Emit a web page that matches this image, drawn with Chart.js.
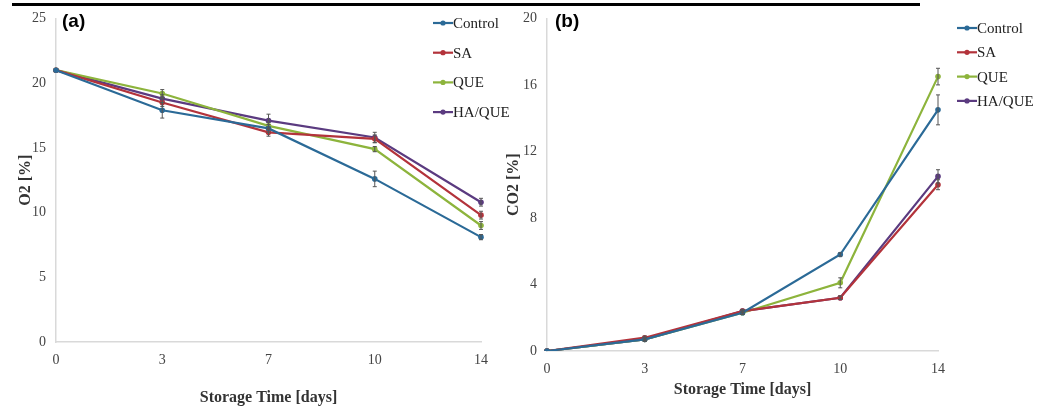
<!DOCTYPE html>
<html>
<head>
<meta charset="utf-8">
<script src="https://cdn.jsdelivr.net/npm/chart.js@4.4.1/dist/chart.umd.min.js"></script>
<style>
    body { margin: 0; background: #fff; }
    #wrap { position: relative; width: 1056px; height: 412px; overflow: hidden; }
    #rule { position: absolute; left: 12px; top: 3px; width: 908px; height: 3px; background: #000; }
    .box { position: absolute; top: 0; height: 412px; }
    #boxA { left: 0; width: 510px; }
    #boxB { left: 498px; width: 558px; }
</style>
</head>
<body>
<div id="wrap">
    <div class="box" id="boxA"><canvas id="chartA"></canvas></div>
    <div class="box" id="boxB"><canvas id="chartB"></canvas></div>
    <div id="rule"></div>
</div>
<script>
const days = ['0', '3', '7', '10', '14'];
const seriesNames = ['Control', 'SA', 'QUE', 'HA/QUE'];
const seriesColors = ['#2b6a97', '#b3333b', '#8db43c', '#5b3b80'];

// O2 [%]
const o2Control = [21.0, 17.9, 16.5, 12.6, 8.1];
const o2SA = [21.0, 18.5, 16.2, 15.7, 9.8];
const o2QUE = [21.0, 19.2, 16.7, 14.9, 9.0];
const o2HAQUE = [21.0, 18.8, 17.1, 15.8, 10.8];
const o2ErrControl = [0, 0.6, 0.3, 0.6, 0.2];
const o2ErrSA = [0, 0.3, 0.3, 0.3, 0.3];
const o2ErrQUE = [0, 0.3, 0.3, 0.2, 0.3];
const o2ErrHAQUE = [0, 0.3, 0.5, 0.4, 0.3];

// CO2 [%]
const co2Control = [0, 0.7, 2.3, 5.8, 14.5];
const co2SA = [0, 0.8, 2.4, 3.2, 10.0];
const co2QUE = [0, 0.7, 2.3, 4.1, 16.5];
const co2HAQUE = [0, 0.7, 2.4, 3.2, 10.5];
const co2ErrControl = [0, 0.1, 0.1, 0.1, 0.9];
const co2ErrSA = [0, 0.1, 0.1, 0.1, 0.3];
const co2ErrQUE = [0, 0.1, 0.1, 0.3, 0.5];
const co2ErrHAQUE = [0, 0.1, 0.1, 0.1, 0.4];

const serif = "'Liberation Serif', 'Times New Roman', serif";

function MakeDatasets(values, errors) {
    return values.map((v, i) => ({
        label: seriesNames[i],
        data: v,
        errors: errors[i],
        borderColor: seriesColors[i],
        backgroundColor: seriesColors[i],
        borderWidth: 2.2,
        pointRadius: 2.8,
        pointBorderWidth: 0,
        tension: 0
    }));
}

// error bars, drawn with the chart's own y scale
const errorBars = {
    id: 'errorBars',
    afterDatasetsDraw(chart) {
        const ctx = chart.ctx;
        const y = chart.scales.y;
        ctx.save();
        ctx.strokeStyle = '#555';
        ctx.lineWidth = 1;
        chart.data.datasets.forEach((ds, di) => {
            const meta = chart.getDatasetMeta(di);
            meta.data.forEach((pt, i) => {
                const e = ds.errors[i];
                if (!e) return;
                const top = y.getPixelForValue(ds.data[i] + e);
                const bot = y.getPixelForValue(ds.data[i] - e);
                ctx.beginPath();
                ctx.moveTo(pt.x, top); ctx.lineTo(pt.x, bot);
                ctx.moveTo(pt.x - 2, top); ctx.lineTo(pt.x + 2, top);
                ctx.moveTo(pt.x - 2, bot); ctx.lineTo(pt.x + 2, bot);
                ctx.stroke();
            });
        });
        ctx.restore();
    }
};

// legend in the top right and the panel letter
const decor = {
    id: 'decor',
    afterDraw(chart, args, opts) {
        const ctx = chart.ctx;
        ctx.save();
        ctx.font = "bold 19px 'Liberation Sans', Arial, sans-serif";
        ctx.fillStyle = '#000';
        ctx.textBaseline = 'middle';
        ctx.fillText(opts.letter, opts.letterX, opts.letterY);

        ctx.font = '15px ' + serif;
        chart.data.datasets.forEach((ds, i) => {
            const yy = opts.legendY + i * opts.legendGap;
            ctx.strokeStyle = ds.borderColor;
            ctx.lineWidth = 2.2;
            ctx.beginPath();
            ctx.moveTo(opts.legendX, yy);
            ctx.lineTo(opts.legendX + 20, yy);
            ctx.stroke();
            ctx.fillStyle = ds.borderColor;
            ctx.beginPath();
            ctx.arc(opts.legendX + 10, yy, 2.6, 0, Math.PI * 2);
            ctx.fill();
            ctx.fillStyle = '#222';
            ctx.fillText(ds.label, opts.legendX + 20, yy + 1);
        });
        ctx.restore();
    }
};

function MakeConfig(datasets, yMax, yStep, yTitle, area, titles, decorOpts) {
    return {
        type: 'line',
        data: { labels: days, datasets: datasets },
        plugins: [errorBars, decor],
        options: {
            responsive: true,
            maintainAspectRatio: false,
            animation: false,
            layout: { padding: { left: 0, top: area.top, right: area.right, bottom: 0 } },
            plugins: {
                legend: { display: false },
                tooltip: { enabled: false },
                decor: decorOpts
            },
            scales: {
                x: {
                    offset: false,
                    grid: { display: false, drawTicks: false },
                    border: { color: '#d9d9d9', width: 1.5 },
                    ticks: { color: '#444', font: { family: serif, size: 14 }, padding: titles.xPad, maxRotation: 0 },
                    title: { display: true, text: 'Storage Time [days]', color: '#333',
                        font: { family: serif, size: 16, weight: 'bold' }, padding: { top: 0, bottom: titles.xTitleBottom } },
                    afterFit(s) { s.height = area.xHeight; }
                },
                y: {
                    min: 0,
                    max: yMax,
                    grid: { display: false, drawTicks: false },
                    border: { color: '#d9d9d9', width: 1.5 },
                    ticks: { stepSize: yStep, color: '#444', font: { family: serif, size: 14 }, padding: 10 },
                    title: { display: true, text: yTitle, color: '#333',
                        font: { family: serif, size: 16, weight: 'bold' }, padding: { top: titles.yTitleTop, bottom: 0 } },
                    afterFit(s) { s.width = area.yWidth; }
                }
            }
        }
    };
}

new Chart(document.getElementById('chartA'), MakeConfig(
    MakeDatasets([o2Control, o2SA, o2QUE, o2HAQUE], [o2ErrControl, o2ErrSA, o2ErrQUE, o2ErrHAQUE]),
    25, 5, 'O2 [%]',
    { top: 15, right: 29, yWidth: 56, xHeight: 70 },
    { xPad: 10, xTitleBottom: 5, yTitleTop: 16 },
    { letter: '(a)', letterX: 62, letterY: 22, legendX: 433, legendY: 23, legendGap: 29.7 }
));

new Chart(document.getElementById('chartB'), MakeConfig(
    MakeDatasets([co2Control, co2SA, co2QUE, co2HAQUE], [co2ErrControl, co2ErrSA, co2ErrQUE, co2ErrHAQUE]),
    20, 4, 'CO2 [%]',
    { top: 15, right: 118, yWidth: 49, xHeight: 61 },
    { xPad: 10, xTitleBottom: 13, yTitleTop: 6 },
    { letter: '(b)', letterX: 57, letterY: 22, legendX: 459, legendY: 28, legendGap: 24.3 }
));
</script>
</body>
</html>
